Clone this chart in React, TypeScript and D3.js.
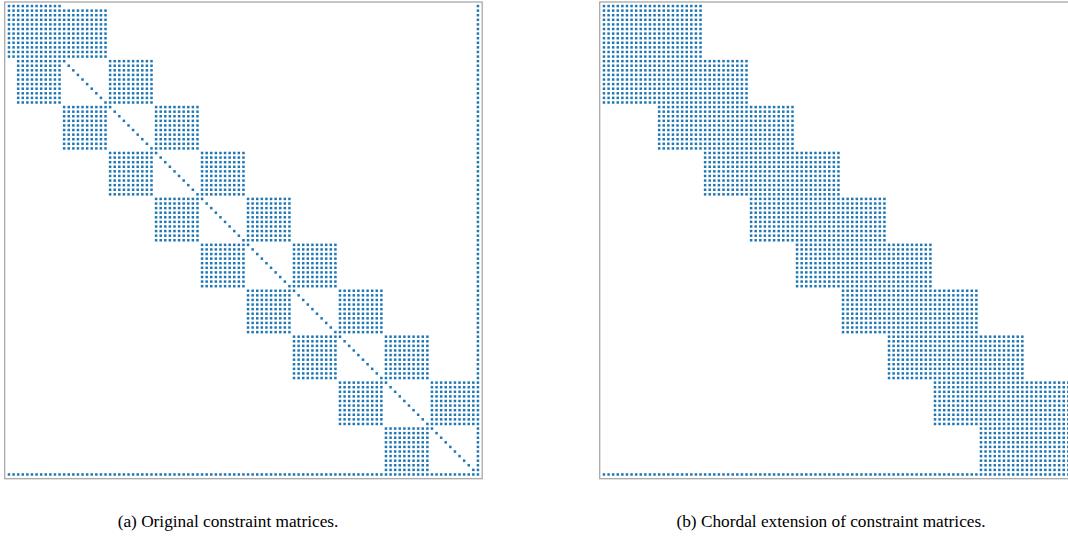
import React from "react";
import * as d3 from "d3";

// Matrix dimension (indices 0..102)
const N = 103;

// Nonzero rectangles: [rowStart, rowEnd, colStart, colEnd] (inclusive)
const originalRects: [number, number, number, number][] = [
  [0, 0, 0, 11],
  [1, 11, 0, 21],
  [12, 21, 2, 11], [12, 21, 22, 31],
  [22, 31, 12, 21], [22, 31, 32, 41],
  [32, 41, 22, 31], [32, 41, 42, 51],
  [42, 51, 32, 41], [42, 51, 52, 61],
  [52, 61, 42, 51], [52, 61, 62, 71],
  [62, 71, 52, 61], [62, 71, 72, 81],
  [72, 81, 62, 71], [72, 81, 82, 91],
  [82, 91, 72, 81], [82, 91, 92, 101],
  [92, 101, 82, 91],
  [102, 102, 0, 102],
  [0, 101, 102, 102],
];
// diagonal entries (i, i)
const originalDiagonal: [number, number] = [12, 101];

const chordalRects: [number, number, number, number][] = [
  [0, 11, 0, 21],
  [12, 21, 0, 31],
  [22, 31, 12, 41],
  [32, 41, 22, 51],
  [42, 51, 32, 61],
  [52, 61, 42, 71],
  [62, 71, 52, 81],
  [72, 81, 62, 91],
  [82, 91, 72, 101],
  [92, 101, 82, 101],
  [102, 102, 0, 102],
  [0, 101, 102, 102],
];
const chordalDiagonal: [number, number] = [12, 101];

const captions = [
  "(a) Original constraint matrices.",
  "(b) Chordal extension of constraint matrices.",
];

function expand(rects: [number, number, number, number][], diag: [number, number]) {
  const set = new Set<string>();
  const pts: [number, number][] = [];
  const add = (r: number, c: number) => {
    const k = r + "," + c;
    if (!set.has(k)) {
      set.add(k);
      pts.push([r, c]);
    }
  };
  rects.forEach(([r0, r1, c0, c1]) => {
    for (const r of d3.range(r0, r1 + 1)) for (const c of d3.range(c0, c1 + 1)) add(r, c);
  });
  for (const i of d3.range(diag[0], diag[1] + 1)) add(i, i);
  return pts;
}

const panels = [
  { offsetX: 0, pts: expand(originalRects, originalDiagonal), caption: captions[0], capX: 228 },
  { offsetX: 595, pts: expand(chordalRects, chordalDiagonal), caption: captions[1], capX: 831 },
];

export default function App() {
  const x = d3.scaleLinear().domain([-0.93, N - 1 + 0.93]).range([4.7, 482.2]);
  const y = d3.scaleLinear().domain([-0.88, N - 1 + 0.92]).range([2, 478.7]);
  const s = 2.5;
  return (
    <svg
      width={1068}
      height={545}
      style={{ position: "absolute", left: 0, top: 0, background: "#fff" }}
    >
      {panels.map((p, pi) => (
        <g key={pi} transform={`translate(${p.offsetX},0)`}>
          <rect
            x={x.range()[0]}
            y={y.range()[0]}
            width={x.range()[1] - x.range()[0]}
            height={y.range()[1] - y.range()[0]}
            fill="none"
            stroke="#a8a8a8"
            strokeWidth={1.3}
          />
          {p.pts.map(([r, c], i) => (
            <rect key={i} x={x(c) - s / 2} y={y(r) - s / 2} width={s} height={s} fill="#1f77b4" />
          ))}
        </g>
      ))}
      {panels.map((p, pi) => (
        <text
          key={"t" + pi}
          x={p.capX}
          y={527}
          textAnchor="middle"
          fontFamily="'Liberation Serif', 'Times New Roman', serif"
          fontSize={17.3}
          fill="#000"
        >
          {p.caption}
        </text>
      ))}
    </svg>
  );
}
